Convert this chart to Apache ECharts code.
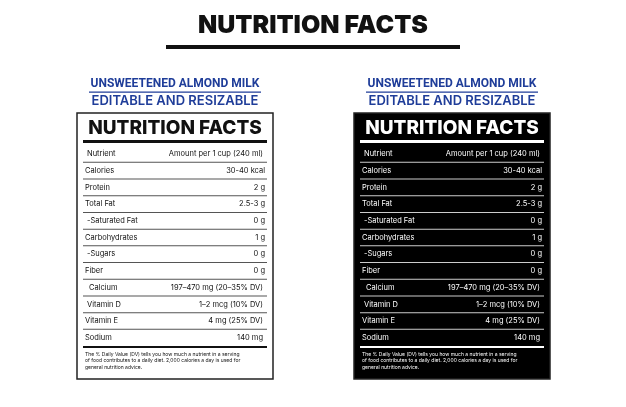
<!DOCTYPE html>
<html><head><meta charset="utf-8">
<script src="https://cdn.jsdelivr.net/npm/echarts@6/dist/echarts.min.js"></script>
<style>html,body{margin:0;background:#fff}#c{width:626px;height:407px}</style>
</head><body><div id="c"></div>
<script>
var nutrients = ['Nutrient', 'Calories', 'Protein', 'Total Fat', '-Saturated Fat', 'Carbohydrates', '-Sugars', 'Fiber', 'Calcium', 'Vitamin D', 'Vitamin E', 'Sodium'];
var amounts = ['Amount per 1 cup (240 ml)', '30-40 kcal', '2 g', '2.5-3 g', '0 g', '1 g', '0 g', '0 g', '197–470 mg (20–35% DV)', '1–2 mcg (10% DV)', '4 mg (25% DV)', '140 mg'];
var indents = [1, 0, 0, 0, 1, 0, 1, 0, 2, 1, 0, 0];
var footnote = 'The % Daily Value (DV) tells you how much a nutrient in a serving\nof food contributes to a daily diet. 2,000 calories a day is used for\ngeneral nutrition advice.';

var F = 'Inter, "Open Sans", sans-serif';
var blue = '#1f3d99';

function panel(x0, dark) {
    var fg = dark ? '#fff' : '#111';
    var line = dark ? '#ccc' : '#555';
    var els = [];
    var cx = x0 + 98;
    els.push({type: 'text', style: {text: 'UNSWEETENED ALMOND MILK', x: cx, y: 84, align: 'center', verticalAlign: 'middle', font: 'bold 12px "Liberation Sans Narrow", "Roboto", sans-serif', fill: blue}});
    els.push({type: 'rect', shape: {x: x0 + 12, y: 91.5, width: 172, height: 1.2}, style: {fill: blue}});
    els.push({type: 'text', style: {text: 'EDITABLE AND RESIZABLE', x: cx, y: 101, align: 'center', verticalAlign: 'middle', font: '600 13px ' + F, fill: blue}});
    els.push({type: 'rect', shape: {x: x0, y: 113, width: 196, height: 266}, style: {fill: dark ? '#000' : '#fff', stroke: '#222', lineWidth: 1.5}});
    els.push({type: 'text', style: {text: 'NUTRITION FACTS', x: cx, y: 128, align: 'center', verticalAlign: 'middle', font: '800 19px ' + F, fill: fg}});
    els.push({type: 'rect', shape: {x: x0 + 6, y: 140, width: 184, height: 3}, style: {fill: fg}});
    var step = 16.7;
    nutrients.forEach(function (n, i) {
        var y = 154 + i * step;
        els.push({type: 'text', style: {text: n, x: x0 + 8 + indents[i] * 2, y: y, verticalAlign: 'middle', font: '7.5px ' + F, fill: fg}});
        els.push({type: 'text', style: {text: amounts[i], x: x0 + 188 - (i == 0 || i >= 8 ? 2 : 0), y: y, align: 'right', verticalAlign: 'middle', font: '7.5px ' + F, fill: fg}});
        if (i < nutrients.length - 1) {
            els.push({type: 'rect', shape: {x: x0 + 6, y: y + step / 2 - 0.5, width: 184, height: 1}, style: {fill: line}});
        }
    });
    els.push({type: 'rect', shape: {x: x0 + 6, y: 346, width: 184, height: 2}, style: {fill: fg}});
    els.push({type: 'text', style: {text: footnote, x: x0 + 8, y: 351, font: '5px ' + F, lineHeight: 6.5, fill: fg}});
    return els;
}

var chart = echarts.init(document.getElementById('c'));
chart.setOption({
    backgroundColor: '#fff',
    graphic: [
        {type: 'text', style: {text: 'NUTRITION FACTS', x: 313, y: 25, align: 'center', verticalAlign: 'middle', font: '900 25px ' + F, fill: '#111'}},
        {type: 'rect', shape: {x: 166, y: 45, width: 294, height: 4}, style: {fill: '#111'}}
    ].concat(panel(77, false), panel(354, true))
});
</script></body></html>
